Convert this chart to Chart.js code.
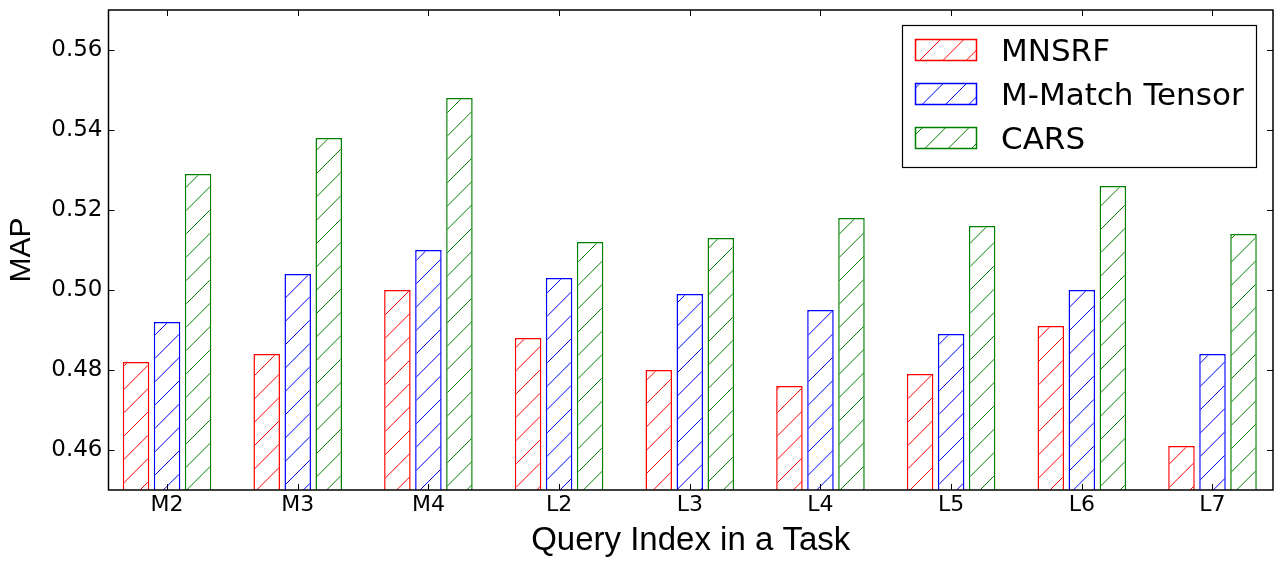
<!DOCTYPE html>
<html>
<head>
<meta charset="utf-8">
<script src="https://cdn.jsdelivr.net/npm/chart.js@4/dist/chart.umd.min.js"></script>
<style>
  html, body { margin: 0; padding: 0; background: #fff; }
  #wrap { width: 1281px; height: 570px; position: relative; }
</style>
</head>
<body>
<div id="wrap"><canvas id="mapChart"></canvas></div>
<script>
// Query positions and MAP per model
const categories = ['M2', 'M3', 'M4', 'L2', 'L3', 'L4', 'L5', 'L6', 'L7'];
const seriesNames = ['MNSRF', 'M-Match Tensor', 'CARS'];
const mnsrf = [0.482, 0.484, 0.500, 0.488, 0.480, 0.476, 0.479, 0.491, 0.461];
const mMatchTensor = [0.492, 0.504, 0.510, 0.503, 0.499, 0.495, 0.489, 0.500, 0.484];
const cars = [0.529, 0.538, 0.548, 0.512, 0.513, 0.518, 0.516, 0.526, 0.514];
const yTicks = [0.46, 0.48, 0.50, 0.52, 0.54, 0.56];
const seriesColors = ['#ff0000', '#0000ff', '#008000'];

// diagonal '/' hatch on white, aligned to the canvas like matplotlib
function makeHatch(color) {
  const size = 70;
  const c = document.createElement('canvas');
  c.width = size;
  c.height = size;
  const g = c.getContext('2d');
  g.fillStyle = '#ffffff';
  g.fillRect(0, 0, size, size);
  g.strokeStyle = color;
  g.lineWidth = 1;
  for (let k = -3; k <= 9; k++) {
    const o = k * size / 3;
    g.beginPath();
    g.moveTo(o, 0);
    g.lineTo(o - size, size);
    g.stroke();
  }
  const ctx = document.getElementById('mapChart').getContext('2d');
  return ctx.createPattern(c, 'repeat');
}

const hatches = seriesColors.map(makeHatch);
const seriesValues = [mnsrf, mMatchTensor, cars];

const datasets = seriesNames.map((name, i) => ({
  label: name,
  data: seriesValues[i].map((v, j) => ({ x: j, y: v })),
  backgroundColor: hatches[i],
  borderColor: seriesColors[i],
  borderWidth: 1.5,
  borderSkipped: 'start',
  categoryPercentage: 0.712,
  barPercentage: 0.855
}));

// frame with inward ticks on all four sides
const framePlugin = {
  id: 'frame',
  afterDatasetsDraw(chart) {
    const { ctx, chartArea: a, scales } = chart;
    ctx.save();
    ctx.strokeStyle = '#000';
    ctx.lineWidth = 1;
    const tl = 6;
    yTicks.forEach(v => {
      const y = Math.round(scales.y.getPixelForValue(v)) + 0.5;
      ctx.beginPath();
      ctx.moveTo(a.left, y); ctx.lineTo(a.left + tl, y);
      ctx.moveTo(a.right, y); ctx.lineTo(a.right - tl, y);
      ctx.stroke();
    });
    categories.forEach((c, i) => {
      const x = Math.round(scales.x.getPixelForValue(i)) + 0.5;
      ctx.beginPath();
      ctx.moveTo(x, a.bottom); ctx.lineTo(x, a.bottom - tl);
      ctx.moveTo(x, a.top); ctx.lineTo(x, a.top + tl);
      ctx.stroke();
    });
    ctx.lineWidth = 1.5;
    ctx.strokeRect(a.left, a.top, a.right - a.left, a.bottom - a.top);
    ctx.restore();
  }
};

// boxed legend in the upper right corner
const legendBox = {
  id: 'legendBox',
  afterDraw(chart) {
    const { ctx } = chart;
    ctx.save();
    ctx.fillStyle = '#fff';
    ctx.fillRect(902, 25, 354, 142);
    ctx.strokeStyle = '#000';
    ctx.lineWidth = 1.2;
    ctx.strokeRect(902.5, 25.5, 354, 142);
    seriesNames.forEach((name, i) => {
      const top = 39 + i * 44;
      ctx.fillStyle = hatches[i];
      ctx.fillRect(915, top, 62, 21);
      ctx.strokeStyle = seriesColors[i];
      ctx.lineWidth = 1.5;
      ctx.strokeRect(915.5, top + 0.5, 61, 21);
      ctx.fillStyle = '#000';
      ctx.font = '31px "DejaVu Sans"';
      ctx.textBaseline = 'alphabetic';
      ctx.textAlign = 'left';
      ctx.fillText(name, 1001, top + 22);
    });
    ctx.restore();
  }
};

new Chart(document.getElementById('mapChart'), {
  type: 'bar',
  data: { datasets },
  plugins: [framePlugin, legendBox],
  options: {
    responsive: true,
    maintainAspectRatio: false,
    animation: false,
    layout: { padding: { top: 10, right: 8, left: 0, bottom: 0 } },
    plugins: {
      legend: { display: false },
      tooltip: { enabled: false }
    },
    scales: {
      x: {
        type: 'linear',
        offset: false,
        min: -0.448,
        max: 8.463,
        grid: { display: false, drawTicks: false, offset: false },
        border: { display: false },
        afterBuildTicks: axis => { axis.ticks = categories.map((c, i) => ({ value: i })); },
        afterFit: axis => { axis.height = 80; axis.paddingLeft = 0; axis.paddingRight = 0; },
        ticks: {
          autoSkip: false,
          maxRotation: 0,
          padding: 2,
          color: '#000',
          font: { family: 'DejaVu Sans', size: 22 },
          callback: v => categories[v] ?? ''
        },
        title: {
          display: true,
          text: 'Query Index in a Task',
          color: '#000',
          font: { family: 'Liberation Sans', size: 33 },
          padding: { top: 0, bottom: 9 }
        }
      },
      y: {
        min: 0.45,
        max: 0.57,
        grid: { display: false, drawTicks: false },
        border: { display: false },
        afterBuildTicks: axis => { axis.ticks = yTicks.map(v => ({ value: v })); },
        afterFit: axis => { axis.width = 108.5; axis.paddingTop = 0; axis.paddingBottom = 0; },
        ticks: {
          padding: 6,
          color: '#000',
          font: { family: 'DejaVu Sans', size: 23 },
          callback: v => v.toFixed(2)
        },
        title: {
          display: true,
          text: 'MAP',
          color: '#000',
          font: { family: 'Liberation Sans', size: 30 },
          padding: { top: 4, bottom: 0 }
        }
      }
    }
  }
});
</script>
</body>
</html>
